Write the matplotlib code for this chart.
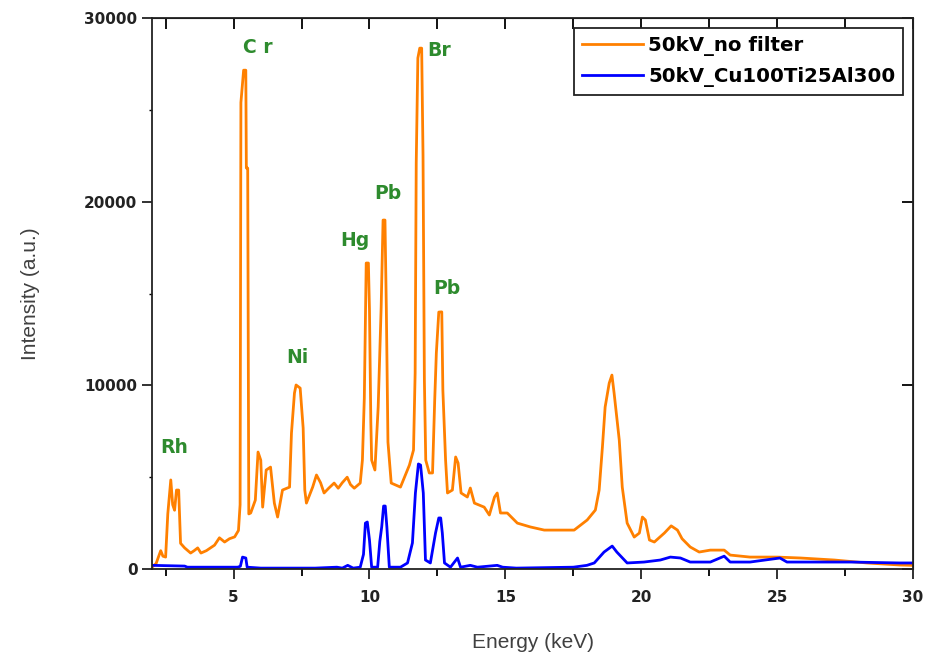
import numpy as np
import matplotlib.pyplot as plt
from matplotlib.ticker import MultipleLocator

# spectrum without filter (energy keV, intensity)
e_nofilter = [2.00, 2.15, 2.32, 2.40, 2.50, 2.58, 2.69, 2.76, 2.83, 2.90, 2.98, 3.05,
              3.20, 3.42, 3.55, 3.68, 3.80, 4.00, 4.30, 4.48, 4.67, 4.85, 5.04, 5.18,
              5.24, 5.27, 5.37, 5.45, 5.47, 5.52, 5.56, 5.63, 5.80, 5.90, 6.00, 6.07,
              6.20, 6.36, 6.50, 6.62, 6.80, 7.06, 7.13, 7.24, 7.30, 7.45, 7.56, 7.62,
              7.68, 7.91, 8.05, 8.20, 8.33, 8.50, 8.70, 8.85, 9.00, 9.18, 9.30, 9.44,
              9.66, 9.74, 9.81, 9.88, 9.96, 10.00, 10.05, 10.08, 10.20, 10.32, 10.43,
              10.50, 10.57, 10.62, 10.68, 10.80, 11.14, 11.47, 11.62, 11.68, 11.72,
              11.78, 11.85, 11.92, 11.97, 12.02, 12.07, 12.20, 12.32, 12.40, 12.46,
              12.55, 12.66, 12.70, 12.80, 12.87, 13.05, 13.17, 13.26, 13.37, 13.60,
              13.71, 13.86, 14.22, 14.41, 14.60, 14.70, 14.82, 15.07, 15.44, 15.92,
              16.43, 16.90, 17.53, 18.01, 18.31, 18.45, 18.57, 18.67, 18.82, 18.92,
              19.00, 19.19, 19.30, 19.48, 19.74, 19.93, 20.04, 20.15, 20.30, 20.48,
              20.85, 21.10, 21.33, 21.50, 21.80, 22.13, 22.54, 23.05, 23.27, 24.00,
              25.00, 25.86, 27.10, 28.30, 29.50, 30.00]
i_nofilter = [100, 300, 1000, 700, 650, 3000, 4850, 3500, 3200, 4300, 4300, 1400,
              1150, 870, 1000, 1150, 870, 1000, 1300, 1700, 1470, 1650, 1750, 2100,
              3500, 25400, 27160, 27160, 21830, 21830, 3000, 3050, 3750, 6370, 5930, 3370,
              5390, 5550, 3590, 2830, 4300, 4460, 7400, 9580, 10020, 9850, 7680, 4300,
              3590, 4460, 5120, 4700, 4140, 4400, 4680, 4400, 4700, 5000, 4600, 4400,
              4680, 5930, 9310, 16660, 16660, 14100, 8000, 5930, 5390, 8820, 14260,
              19000, 19000, 14200, 6910, 4680, 4460, 5660, 6480, 10670, 22100,
              27820, 28360, 28360, 22540, 10290, 5930, 5230, 5230, 9200, 11760,
              13990, 14000, 9740, 5930, 4140, 4300, 6100, 5770, 4140, 3920,
              4410, 3590, 3370, 2940, 3920, 4140, 3050, 3050, 2500, 2290,
              2120, 2120, 2120, 2670, 3210, 4300, 6640, 8820, 10120, 10560,
              9580, 7020, 4460, 2500, 1740, 1960, 2830, 2670, 1580, 1470,
              1960, 2350, 2120, 1650, 1200, 925, 1030, 1030, 760, 650,
              650, 600, 490, 330, 220, 200]

# spectrum with Cu100Ti25Al300 filter
e_filter = [2.00, 3.20, 3.30, 5.15, 5.25, 5.33, 5.45, 5.50, 6.00, 8.00, 8.80, 9.00,
            9.20, 9.40, 9.66, 9.78, 9.85, 9.92, 10.00, 10.08, 10.30, 10.38, 10.45,
            10.52, 10.58, 10.64, 10.73, 11.14, 11.40, 11.58, 11.69, 11.80, 11.88,
            11.98, 12.06, 12.24, 12.43, 12.55, 12.62, 12.68, 12.76, 12.98, 13.24,
            13.35, 13.71, 13.97, 14.70, 14.90, 15.40, 17.50, 18.00, 18.27, 18.63,
            18.93, 19.10, 19.48, 20.10, 20.70, 21.07, 21.44, 21.80, 22.54, 23.05,
            23.27, 24.00, 25.10, 25.36, 26.50, 27.70, 29.50, 30.00]
i_filter = [200, 160, 100, 100, 150, 650, 600, 100, 50, 50, 100, 50,
            200, 50, 100, 800, 2500, 2560, 1580, 100, 100, 1500, 2290,
            3430, 3430, 2290, 100, 100, 330, 1420, 4140, 5720, 5660,
            4140, 490, 330, 1960, 2780, 2780, 1960, 330, 100, 600,
            100, 200, 100, 200, 100, 50, 100, 200, 330, 925,
            1250, 925, 330, 380, 490, 650, 600, 380, 380, 700,
            380, 380, 600, 380, 380, 380, 330, 330]

# element labels (centre of text)
peak_names = ['Rh', 'C r', 'Ni', 'Hg', 'Pb', 'Br', 'Pb']
peak_x = [2.83, 5.88, 7.35, 9.48, 10.66, 12.57, 12.83]
peak_y = [6640, 28420, 11490, 17910, 20470, 28250, 15300]

fig = plt.figure(figsize=(9.27, 6.53), dpi=100)
ax = fig.add_axes([0.164, 0.1286, 0.821, 0.8438])

ax.plot(e_nofilter, i_nofilter, color='#ff8000', lw=2.0, label='50kV_no filter')
ax.plot(e_filter, i_filter, color='#0000ff', lw=2.0, label='50kV_Cu100Ti25Al300')

for name, x, y in zip(peak_names, peak_x, peak_y):
    ax.text(x, y, name, color='#2e8b2e', fontsize=13.5, fontweight='bold',
            ha='center', va='center', family='DejaVu Sans')

ax.set_xlim(2, 30)
ax.set_ylim(0, 30000)
ax.xaxis.set_major_locator(MultipleLocator(5))
ax.xaxis.set_minor_locator(MultipleLocator(2.5))
ax.yaxis.set_major_locator(MultipleLocator(10000))
ax.yaxis.set_minor_locator(MultipleLocator(5000))
ax.tick_params(which='major', direction='out', length=7, width=1.3, colors='#222222',
               labelsize=11)
ax.tick_params(axis='x', which='minor', direction='out', length=5, width=1.3)
ax.tick_params(axis='y', which='minor', direction='out', length=2, width=1.0)
for lab in ax.get_xticklabels() + ax.get_yticklabels():
    lab.set_fontweight('bold')
    lab.set_family('DejaVu Sans')
ax.tick_params(axis='x', pad=8)

for sp in ax.spines.values():
    sp.set_linewidth(1.3)
    sp.set_color('#222222')

top = ax.secondary_xaxis('top')
top.xaxis.set_major_locator(MultipleLocator(2.5))
top.tick_params(direction='in', length=8, width=1.3, labeltop=False)
right = ax.secondary_yaxis('right')
right.yaxis.set_major_locator(MultipleLocator(10000))
right.tick_params(direction='in', length=8, width=1.3, labelright=False)

ax.set_xlabel('Energy (keV)', fontsize=15, color='#404040', family='Liberation Sans', labelpad=20)
ax.set_ylabel('Intensity (a.u.)', fontsize=15, color='#404040', family='Liberation Sans', labelpad=32)

leg = ax.legend(loc='upper right', fancybox=False, edgecolor='#222222', framealpha=1,
                prop={'family': 'DejaVu Sans', 'weight': 'bold', 'size': 14.2},
                borderaxespad=0.5, handlelength=3.1, handletextpad=0.25, borderpad=0.4,
                labelspacing=0.55)
leg.get_frame().set_linewidth(1.3)

fig.savefig('out.png', dpi=100)
